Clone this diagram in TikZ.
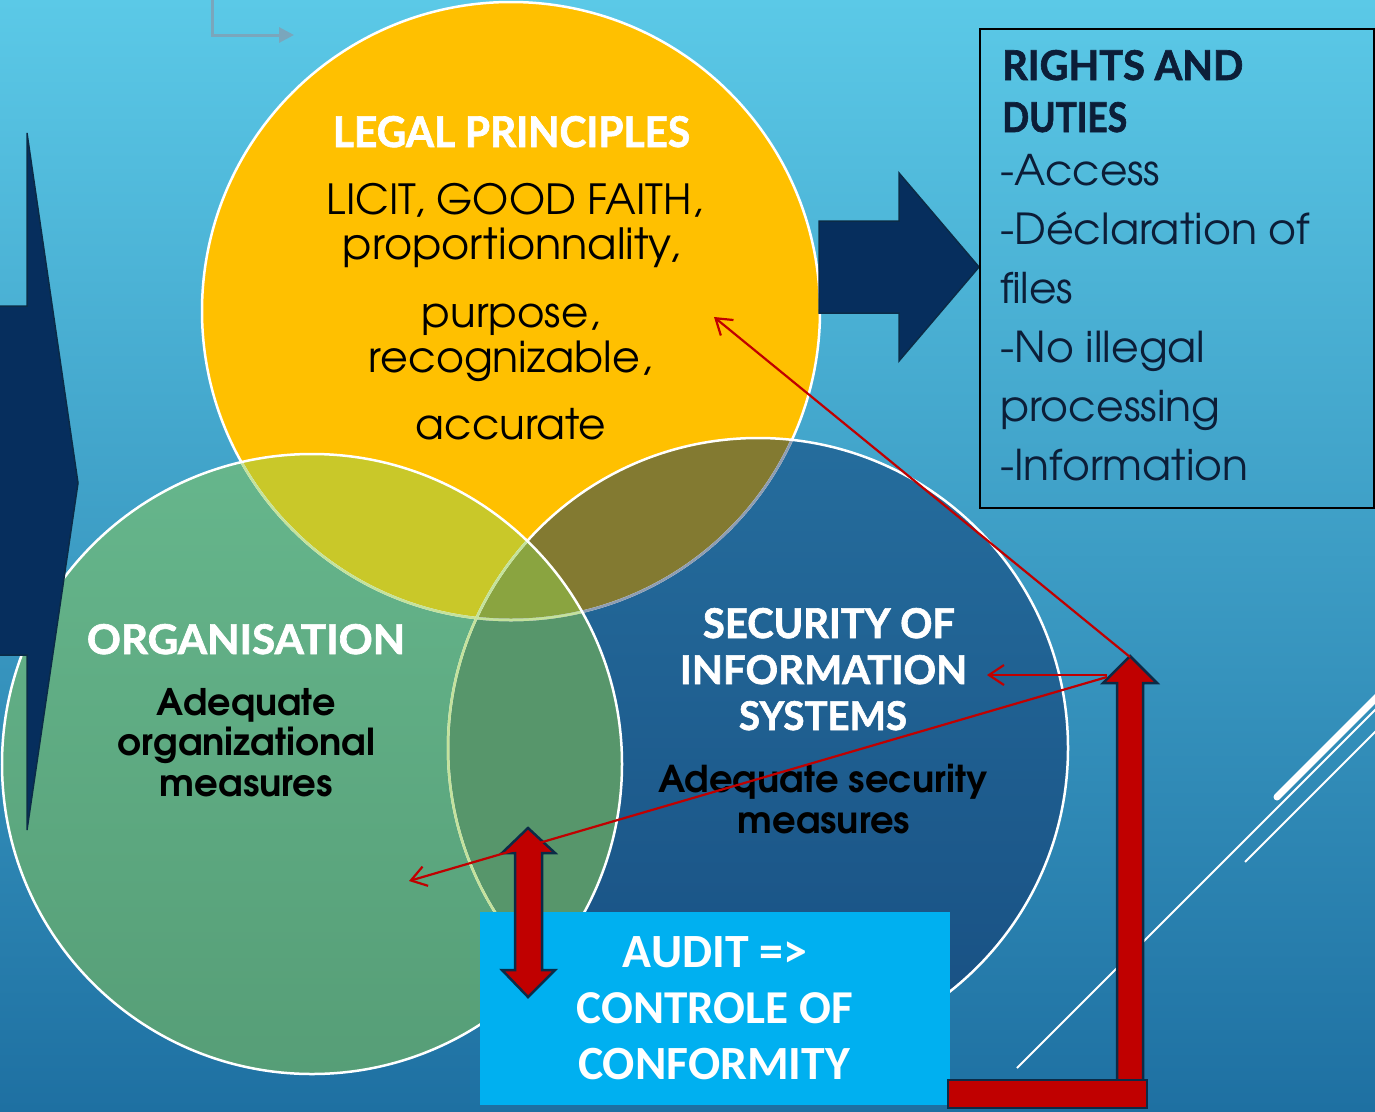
\documentclass[tikz,border=0pt]{standalone}
\usepackage{graphicx}
\usepackage{fontspec}
\usetikzlibrary{arrows.meta}
\newfontfamily\headfont{Lato}[BoldFeatures={FakeBold=1.6}]
\newfontfamily\gothic{texgyreadventor}[Extension=.otf,UprightFont=*-regular,BoldFont=*-bold]
\newfontfamily\calib{Carlito}
\definecolor{bgtop}{HTML}{5BC9E7}
\definecolor{bgbot}{HTML}{1E70A2}
\definecolor{yelc}{HTML}{FFC000}
\definecolor{grtop}{HTML}{66B68C}
\definecolor{grbot}{HTML}{569E77}
\definecolor{bltop}{HTML}{256D9D}
\definecolor{blbot}{HTML}{184F82}
\definecolor{ygc}{HTML}{C9C829}
\definecolor{ybc}{HTML}{837A31}
\definecolor{gbc}{HTML}{57966B}
\definecolor{ygbc}{HTML}{8AA440}
\definecolor{fadegr}{HTML}{C4E29C}
\definecolor{fadebl}{HTML}{8E9DB2}
\definecolor{navyc}{HTML}{062E5D}
\definecolor{navyedge}{HTML}{0B2B47}
\definecolor{redc}{HTML}{C00000}
\definecolor{auditc}{HTML}{00B0F0}
\definecolor{boxtxt}{HTML}{0C1E38}
\definecolor{grayarr}{HTML}{7AA6BC}
\begin{document}
\begin{tikzpicture}[x=1pt,y=-1pt,
  lbl/.style={inner sep=0pt,anchor=base},
  lblw/.style={inner sep=0pt,anchor=base west},
  redline/.style={draw=redc,line width=2.2pt,-{Straight Barb[length=15pt,width=20pt]}},
  redshape/.style={fill=redc,draw=navyedge,line width=2.5pt,line join=miter},
  navyshape/.style={fill=navyc,draw=navyedge,line width=1.5pt,line join=miter},
  decoline/.style={draw=white,line width=2pt}]
\useasboundingbox (0,0) rectangle (1375,1111);
\clip (0,0) rectangle (1375,1111);
% background
\shade[top color=bgtop,bottom color=bgbot] (0,0) rectangle (1375,1111);
% decorative lines
\draw[draw=white,line width=7pt,line cap=round] (1277,797) -- (1390,684);
\draw[decoline] (1017,1068) -- (1390,695);
\draw[decoline] (1245,862) -- (1390,717);
% gray connector at top
\coordinate (gstart) at (212,-5);
\coordinate (gbend) at (212,35);
\coordinate (gend) at (294,35);
\draw[draw=grayarr,line width=3pt,-{Triangle[length=15pt,width=15pt]}] (gstart) -- (gbend) -- (gend);
% circles
\coordinate (Yc) at (511,311);
\coordinate (Gc) at (312,764);
\coordinate (Bc) at (758,748);
\fill[yelc] (Yc) circle (309pt);
\shade[top color=bltop,bottom color=blbot] (Bc) circle (310pt);
\shade[top color=grtop,bottom color=grbot] (Gc) circle (310pt);
\begin{scope}
  \clip (Yc) circle (309pt);
  \fill[ygc] (Gc) circle (310pt);
  \fill[ybc] (Bc) circle (310pt);
\end{scope}
\begin{scope}
  \clip (Gc) circle (310pt);
  \fill[gbc] (Bc) circle (310pt);
  \clip (Bc) circle (310pt);
  \fill[ygbc] (Yc) circle (309pt);
\end{scope}
% outlines
\draw[white,line width=2.5pt] (Yc) circle (309pt);
\begin{scope}
  \clip (Bc) circle (310pt);
  \draw[fadebl,line width=2.5pt] (Yc) circle (309pt);
\end{scope}
\begin{scope}
  \clip (Gc) circle (310pt);
  \draw[fadegr,line width=2.5pt] (Yc) circle (309pt);
\end{scope}
\draw[white,line width=2.5pt] (Bc) circle (310pt);
\begin{scope}
  \clip (Gc) circle (310pt);
  \draw[fadegr,line width=2.5pt] (Bc) circle (310pt);
\end{scope}
\draw[white,line width=2.5pt] (Gc) circle (310pt);
% big left arrow
\draw[navyshape] (-10,306) -- (27,306) -- (27,133) -- (78,483) -- (27,830) -- (27,655) -- (-10,655) -- cycle;
% right arrow
\draw[navyshape] (819,221) -- (899,221) -- (899,173) -- (979,267) -- (899,361) -- (899,313) -- (819,313) -- cycle;
% rights box
\draw[black,line width=1.8pt] (980,29) rectangle (1374,508);
% yellow texts
\node[lbl,text=white] (legal) at (511.5,147) {\resizebox{357pt}{31pt}{\headfont\bfseries LEGAL PRINCIPLES}};
\node[lbl] (licit) at (515,214) {\resizebox{376pt}{!}{\gothic LICIT, GOOD FAITH,}};
\node[lbl] (prop) at (511.5,259) {\resizebox{337pt}{!}{\gothic proportionnality,}};
\node[lbl] (purp) at (511,327) {\resizebox{178pt}{!}{\gothic purpose,}};
\node[lbl] (reco) at (510.5,372) {\resizebox{283pt}{!}{\gothic recognizable,}};
\node[lbl] (accu) at (511,439) {\resizebox{190pt}{!}{\gothic accurate}};
% green texts
\node[lbl,text=white] (orgt) at (246,654) {\resizebox{318pt}{30pt}{\headfont\bfseries ORGANISATION}};
\node[lbl] (org1) at (246.5,715) {\resizebox{179pt}{!}{\gothic\bfseries Adequate}};
\node[lbl] (org2) at (246.5,755) {\resizebox{257pt}{!}{\gothic\bfseries organizational}};
\node[lbl] (org3) at (246.5,796) {\resizebox{173pt}{!}{\gothic\bfseries measures}};
% blue texts
\node[lbl,text=white] (sec1) at (829,638) {\resizebox{252pt}{30pt}{\headfont\bfseries SECURITY OF}};
\node[lbl,text=white] (sec2) at (823.5,684) {\resizebox{287pt}{29pt}{\headfont\bfseries INFORMATION}};
\node[lbl,text=white] (sec3) at (823,730) {\resizebox{168pt}{29pt}{\headfont\bfseries SYSTEMS}};
\node[lbl] (sec4) at (823,792) {\resizebox{330pt}{!}{\gothic\bfseries Adequate security}};
\node[lbl] (sec5) at (824,833) {\resizebox{172pt}{!}{\gothic\bfseries measures}};
% rights box texts
\node[lblw,text=boxtxt] (r1) at (1002,80) {\resizebox{241pt}{30pt}{\headfont\bfseries RIGHTS AND}};
\node[lblw,text=boxtxt] (r2) at (1002,132) {\resizebox{125pt}{30pt}{\headfont\bfseries DUTIES}};
\node[lblw,text=boxtxt] (r3) at (1000,185) {\resizebox{160pt}{!}{\gothic -Access}};
\node[lblw,text=boxtxt] (r4) at (1000,244) {\resizebox{310pt}{!}{\gothic -Déclaration of}};
\node[lblw,text=boxtxt] (r5) at (1000,303) {\resizebox{73pt}{!}{\gothic files}};
\node[lblw,text=boxtxt] (r6) at (1000,362) {\resizebox{205pt}{!}{\gothic -No illegal}};
\node[lblw,text=boxtxt] (r7) at (1000,421) {\resizebox{220pt}{!}{\gothic processing}};
\node[lblw,text=boxtxt] (r8) at (1000,480) {\resizebox{248pt}{!}{\gothic -Information}};
% audit box
\fill[auditc] (480,912) rectangle (950,1105);
\node[lbl,text=white] (au1) at (715,967) {\resizebox{184pt}{!}{\calib\bfseries AUDIT =>}};
\node[lbl,text=white] (au2) at (715,1023) {\resizebox{276pt}{!}{\calib\bfseries CONTROLE OF}};
\node[lbl,text=white] (au3) at (714,1079) {\resizebox{272pt}{!}{\calib\bfseries CONFORMITY}};
% red double arrow
\draw[redshape] (528,828) -- (555,853) -- (542,853) -- (542,970) -- (555,970) -- (528,997) -- (502,970) -- (515,970) -- (515,853) -- (502,853) -- cycle;
% red L arrow
\draw[redshape] (1130,656) -- (1157,683) -- (1143,683) -- (1143,1085) -- (1117,1085) -- (1117,683) -- (1103,683) -- cycle;
\draw[redshape] (948,1080) rectangle (1147,1108);
% red connector lines
\coordinate (rtip) at (1130,657);
\coordinate (lp) at (714,317);
\coordinate (hstart) at (1107,675);
\coordinate (secpt) at (987,675);
\coordinate (dstart) at (1107,677);
\coordinate (orgpt) at (409,881);
\draw[redline] (rtip) -- (lp);
\draw[redline] (hstart) -- (secpt);
\draw[redline] (dstart) -- (orgpt);
\end{tikzpicture}
\end{document}
